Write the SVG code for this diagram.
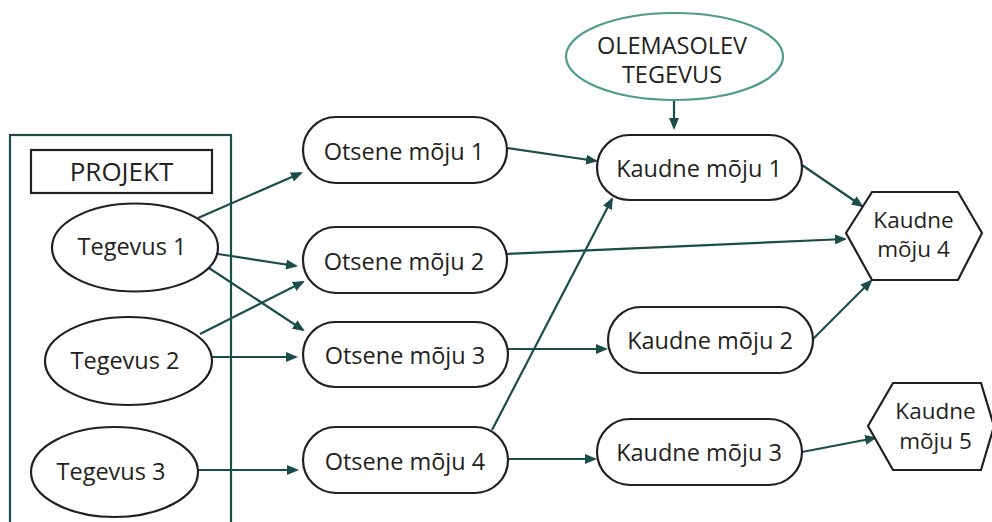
<svg xmlns="http://www.w3.org/2000/svg" width="992" height="522" viewBox="0 0 992 522">
<defs>
<style>
.n{fill:#fff;stroke:#231f20;stroke-width:2.2}
.t{font-family:"Open Sans","Noto Sans","Liberation Sans",sans-serif;font-size:23.5px;fill:#231f20;text-anchor:middle}
.h{font-size:22.5px}
.c{stroke:#1b4d4a;stroke-width:2.2;fill:none;marker-end:url(#ah)}
</style>
<marker id="ah" viewBox="0 0 12 10" refX="10" refY="5" markerWidth="12" markerHeight="10" markerUnits="userSpaceOnUse" orient="auto">
<path d="M0,0 L12,5 L0,10 z" fill="#1b4d4a"/>
</marker>
</defs>
<rect width="992" height="522" fill="#fff"/>
<g id="projekt-frame">
<rect x="10" y="135" width="221" height="400" fill="none" stroke="#1b4d4a" stroke-width="2.2"/>
</g>
<g id="projekt-label">
<rect x="31" y="150" width="181" height="43" fill="#fff" stroke="#231f20" stroke-width="2.2"/>
<text class="t" x="121.5" y="181" style="font-size:26px">PROJEKT</text>
</g>
<g id="connectors">
<line class="c" x1="198" y1="218" x2="301" y2="173"/>
<line class="c" x1="218" y1="254" x2="296" y2="266"/>
<line class="c" x1="209" y1="268" x2="303" y2="330"/>
<line class="c" x1="200" y1="334" x2="303" y2="282"/>
<line class="c" x1="212" y1="357" x2="296" y2="357"/>
<line class="c" x1="198" y1="470" x2="297" y2="470"/>
<line class="c" x1="507" y1="148" x2="596" y2="161"/>
<line class="c" x1="507" y1="254" x2="845" y2="239"/>
<line class="c" x1="492" y1="430" x2="612" y2="199"/>
<line class="c" x1="508" y1="349" x2="606" y2="349"/>
<line class="c" x1="508" y1="459" x2="595" y2="459"/>
<line class="c" x1="802" y1="165" x2="862" y2="206"/>
<line class="c" x1="813" y1="339" x2="871" y2="281"/>
<line class="c" x1="802" y1="452" x2="875" y2="438"/>
<line class="c" x1="674" y1="100" x2="674" y2="128"/>
</g>
<g id="tegevus1">
<ellipse class="n" cx="135" cy="247.5" rx="83" ry="44"/>
<text class="t" x="132" y="255">Tegevus 1</text>
</g>
<g id="tegevus2">
<ellipse class="n" cx="128.5" cy="361" rx="83.5" ry="44"/>
<text class="t" x="125" y="369">Tegevus 2</text>
</g>
<g id="tegevus3">
<ellipse class="n" cx="114.5" cy="472" rx="83.5" ry="45"/>
<text class="t" x="111" y="480">Tegevus 3</text>
</g>
<g id="otsene1">
<rect class="n" x="303" y="117" width="204" height="66" rx="33"/>
<text class="t" x="404" y="160">Otsene mõju 1</text>
</g>
<g id="otsene2">
<rect class="n" x="303" y="227" width="204" height="66" rx="33"/>
<text class="t" x="404" y="270">Otsene mõju 2</text>
</g>
<g id="otsene3">
<rect class="n" x="303" y="322" width="205" height="65" rx="32.5"/>
<text class="t" x="405" y="364">Otsene mõju 3</text>
</g>
<g id="otsene4">
<rect class="n" x="303" y="427" width="205" height="66" rx="33"/>
<text class="t" x="405" y="470">Otsene mõju 4</text>
</g>
<g id="olemasolev">
<ellipse cx="674.5" cy="56.5" rx="108.5" ry="43.5" fill="#fff" stroke="#4e9a8b" stroke-width="2.2"/>
<text class="t" x="672" y="54">OLEMASOLEV</text>
<text class="t" x="672" y="83">TEGEVUS</text>
</g>
<g id="kaudne1">
<rect class="n" x="597" y="135" width="205" height="65" rx="32.5"/>
<text class="t" x="699" y="177">Kaudne mõju 1</text>
</g>
<g id="kaudne2">
<rect class="n" x="608" y="307" width="205" height="66" rx="33"/>
<text class="t" x="710" y="349">Kaudne mõju 2</text>
</g>
<g id="kaudne3">
<rect class="n" x="597" y="419" width="205" height="66" rx="33"/>
<text class="t" x="699" y="461">Kaudne mõju 3</text>
</g>
<g id="kaudne4">
<polygon class="n" points="846,233 872,192 958,192 982,233 958,280 872,280"/>
<text class="t h" x="913.5" y="228">Kaudne</text>
<text class="t h" x="913.5" y="257">mõju 4</text>
</g>
<g id="kaudne5">
<polygon class="n" points="868,426 893,383 981,383 994,426 981,470 893,470"/>
<text class="t h" x="935.5" y="419">Kaudne</text>
<text class="t h" x="935.5" y="449">mõju 5</text>
</g>
</svg>
